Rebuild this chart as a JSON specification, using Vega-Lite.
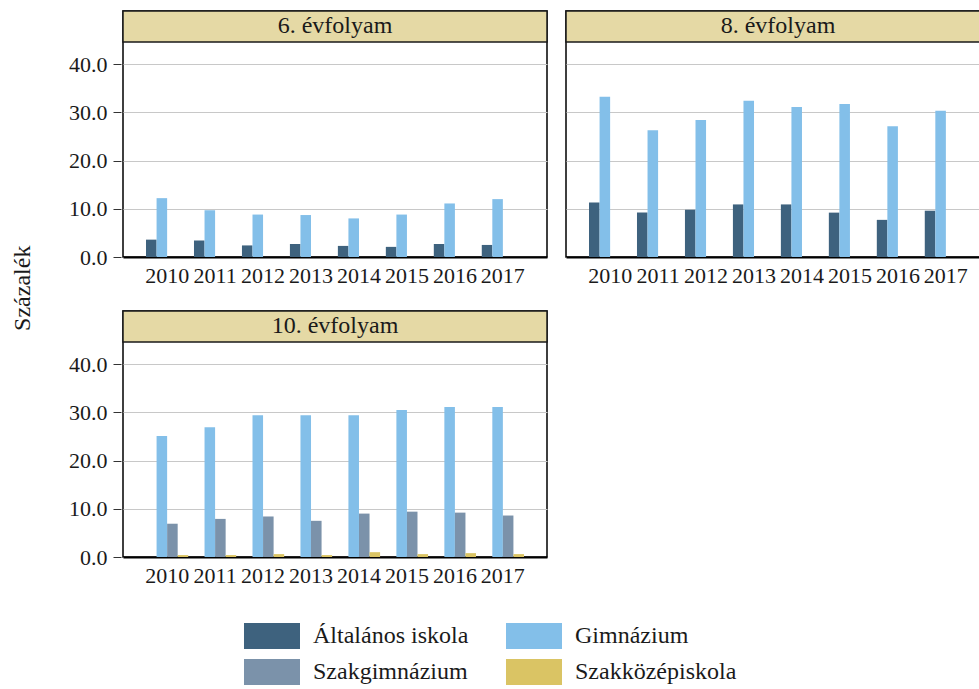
{
  "$schema": "https://vega.github.io/schema/vega-lite/v6.json",
  "padding": {"left": 10, "top": 9, "right": 0, "bottom": 2},
  "title": {"text": "Százalék", "orient": "left", "anchor": "middle", "font": "Liberation Serif", "fontSize": 24, "fontWeight": "normal", "color": "#1a1a1a", "offset": 34, "dx": 59},
  "data": {"values": [
    {"grade": "6. évfolyam", "year": "2010", "type": "Általános iskola", "value": 3.6},
    {"grade": "6. évfolyam", "year": "2011", "type": "Általános iskola", "value": 3.4},
    {"grade": "6. évfolyam", "year": "2012", "type": "Általános iskola", "value": 2.4},
    {"grade": "6. évfolyam", "year": "2013", "type": "Általános iskola", "value": 2.7},
    {"grade": "6. évfolyam", "year": "2014", "type": "Általános iskola", "value": 2.3},
    {"grade": "6. évfolyam", "year": "2015", "type": "Általános iskola", "value": 2.1},
    {"grade": "6. évfolyam", "year": "2016", "type": "Általános iskola", "value": 2.7},
    {"grade": "6. évfolyam", "year": "2017", "type": "Általános iskola", "value": 2.5},
    {"grade": "6. évfolyam", "year": "2010", "type": "Gimnázium", "value": 12.2},
    {"grade": "6. évfolyam", "year": "2011", "type": "Gimnázium", "value": 9.7},
    {"grade": "6. évfolyam", "year": "2012", "type": "Gimnázium", "value": 8.8},
    {"grade": "6. évfolyam", "year": "2013", "type": "Gimnázium", "value": 8.7},
    {"grade": "6. évfolyam", "year": "2014", "type": "Gimnázium", "value": 8.0},
    {"grade": "6. évfolyam", "year": "2015", "type": "Gimnázium", "value": 8.8},
    {"grade": "6. évfolyam", "year": "2016", "type": "Gimnázium", "value": 11.1},
    {"grade": "6. évfolyam", "year": "2017", "type": "Gimnázium", "value": 12.0},
    {"grade": "8. évfolyam", "year": "2010", "type": "Általános iskola", "value": 11.3},
    {"grade": "8. évfolyam", "year": "2011", "type": "Általános iskola", "value": 9.2},
    {"grade": "8. évfolyam", "year": "2012", "type": "Általános iskola", "value": 9.8},
    {"grade": "8. évfolyam", "year": "2013", "type": "Általános iskola", "value": 10.9},
    {"grade": "8. évfolyam", "year": "2014", "type": "Általános iskola", "value": 10.9},
    {"grade": "8. évfolyam", "year": "2015", "type": "Általános iskola", "value": 9.2},
    {"grade": "8. évfolyam", "year": "2016", "type": "Általános iskola", "value": 7.7},
    {"grade": "8. évfolyam", "year": "2017", "type": "Általános iskola", "value": 9.6},
    {"grade": "8. évfolyam", "year": "2010", "type": "Gimnázium", "value": 33.2},
    {"grade": "8. évfolyam", "year": "2011", "type": "Gimnázium", "value": 26.3},
    {"grade": "8. évfolyam", "year": "2012", "type": "Gimnázium", "value": 28.4},
    {"grade": "8. évfolyam", "year": "2013", "type": "Gimnázium", "value": 32.4},
    {"grade": "8. évfolyam", "year": "2014", "type": "Gimnázium", "value": 31.1},
    {"grade": "8. évfolyam", "year": "2015", "type": "Gimnázium", "value": 31.7},
    {"grade": "8. évfolyam", "year": "2016", "type": "Gimnázium", "value": 27.1},
    {"grade": "8. évfolyam", "year": "2017", "type": "Gimnázium", "value": 30.3},
    {"grade": "10. évfolyam", "year": "2010", "type": "Gimnázium", "value": 25.1},
    {"grade": "10. évfolyam", "year": "2011", "type": "Gimnázium", "value": 26.9},
    {"grade": "10. évfolyam", "year": "2012", "type": "Gimnázium", "value": 29.4},
    {"grade": "10. évfolyam", "year": "2013", "type": "Gimnázium", "value": 29.4},
    {"grade": "10. évfolyam", "year": "2014", "type": "Gimnázium", "value": 29.4},
    {"grade": "10. évfolyam", "year": "2015", "type": "Gimnázium", "value": 30.5},
    {"grade": "10. évfolyam", "year": "2016", "type": "Gimnázium", "value": 31.1},
    {"grade": "10. évfolyam", "year": "2017", "type": "Gimnázium", "value": 31.1},
    {"grade": "10. évfolyam", "year": "2010", "type": "Szakgimnázium", "value": 6.9},
    {"grade": "10. évfolyam", "year": "2011", "type": "Szakgimnázium", "value": 7.9},
    {"grade": "10. évfolyam", "year": "2012", "type": "Szakgimnázium", "value": 8.4},
    {"grade": "10. évfolyam", "year": "2013", "type": "Szakgimnázium", "value": 7.5},
    {"grade": "10. évfolyam", "year": "2014", "type": "Szakgimnázium", "value": 9.0},
    {"grade": "10. évfolyam", "year": "2015", "type": "Szakgimnázium", "value": 9.4},
    {"grade": "10. évfolyam", "year": "2016", "type": "Szakgimnázium", "value": 9.2},
    {"grade": "10. évfolyam", "year": "2017", "type": "Szakgimnázium", "value": 8.6},
    {"grade": "10. évfolyam", "year": "2010", "type": "Szakközépiskola", "value": 0.4},
    {"grade": "10. évfolyam", "year": "2011", "type": "Szakközépiskola", "value": 0.4},
    {"grade": "10. évfolyam", "year": "2012", "type": "Szakközépiskola", "value": 0.6},
    {"grade": "10. évfolyam", "year": "2013", "type": "Szakközépiskola", "value": 0.4},
    {"grade": "10. évfolyam", "year": "2014", "type": "Szakközépiskola", "value": 1.0},
    {"grade": "10. évfolyam", "year": "2015", "type": "Szakközépiskola", "value": 0.6},
    {"grade": "10. évfolyam", "year": "2016", "type": "Szakközépiskola", "value": 0.8},
    {"grade": "10. évfolyam", "year": "2017", "type": "Szakközépiskola", "value": 0.6}
  ]},
  "facet": {"field": "grade", "type": "nominal", "sort": ["6. évfolyam", "8. évfolyam", "10. évfolyam"], "header": {"title": null, "labels": false, "labelExpr": "''", "labelFontSize": 0, "labelPadding": 0}},
  "columns": 2,
  "spacing": {"column": 15, "row": 22},
  "resolve": {"axis": {"x": "independent"}},
  "spec": {
    "width": 424,
    "height": 246,
    "layer": [
      {
        "transform": [{"aggregate": [{"op": "count", "as": "n"}], "groupby": ["grade"]}],
        "mark": {"type": "rect", "fill": "#E5D9A5", "stroke": "#1a1a1a", "strokeWidth": 1.5},
        "encoding": {
          "y": {"datum": 44.56, "type": "quantitative"},
          "y2": {"datum": 51}
        }
      },
      {
        "transform": [{"aggregate": [{"op": "count", "as": "n"}], "groupby": ["grade"]}],
        "mark": {"type": "text", "font": "Liberation Serif", "fontSize": 24, "color": "#1a1a1a", "baseline": "middle", "align": "center"},
        "encoding": {
          "y": {"datum": 47.8, "type": "quantitative"},
          "text": {"field": "grade", "type": "nominal"}
        }
      },
      {
        "mark": {"type": "bar"},
        "encoding": {
          "x": {"field": "year", "type": "ordinal", "scale": {"paddingInner": 0.12, "paddingOuter": 0.48},
                "axis": {"title": null, "ticks": false, "labelAngle": 0, "labelFont": "Liberation Serif", "labelFontSize": 22, "labelColor": "#1a1a1a", "labelPadding": 8, "domainColor": "#000", "domainWidth": 2}},
          "xOffset": {"field": "type", "type": "nominal", "sort": ["Általános iskola", "Gimnázium", "Szakgimnázium", "Szakközépiskola"], "scale": {"paddingInner": 0, "paddingOuter": 0}},
          "y": {"field": "value", "type": "quantitative", "scale": {"domain": [0, 51], "nice": false},
                "axis": {"title": null, "values": [0, 10, 20, 30, 40], "format": ".1f", "grid": true, "gridColor": "#C8C8C8", "gridWidth": 1, "domain": false, "tickColor": "#333", "tickSize": 8, "labelPadding": 6, "labelFont": "Liberation Serif", "labelFontSize": 22, "labelColor": "#1a1a1a"}},
          "color": {"field": "type", "type": "nominal", "sort": ["Általános iskola", "Gimnázium", "Szakgimnázium", "Szakközépiskola"],
                    "scale": {"domain": ["Általános iskola", "Gimnázium", "Szakgimnázium", "Szakközépiskola"], "range": ["#3E627E", "#83BFE9", "#7B92AA", "#DAC464"]},
                    "legend": {"title": null, "orient": "none", "legendX": 136, "legendY": 612, "direction": "horizontal", "columns": 2, "symbolType": "M-2.154,-1H2.154V1H-2.154Z", "symbolSize": 676, "symbolStrokeWidth": 0, "symbolOpacity": 1, "labelFont": "Liberation Serif", "labelFontSize": 24, "labelColor": "#1a1a1a", "labelOffset": 28, "columnPadding": 36, "rowPadding": 10, "labelLimit": 300}}
        }
      }
    ]
  },
  "config": {
    "view": {"stroke": "#000", "strokeWidth": 1.5},
    "axis": {"gridColor": "#C8C8C8"}
  }
}
